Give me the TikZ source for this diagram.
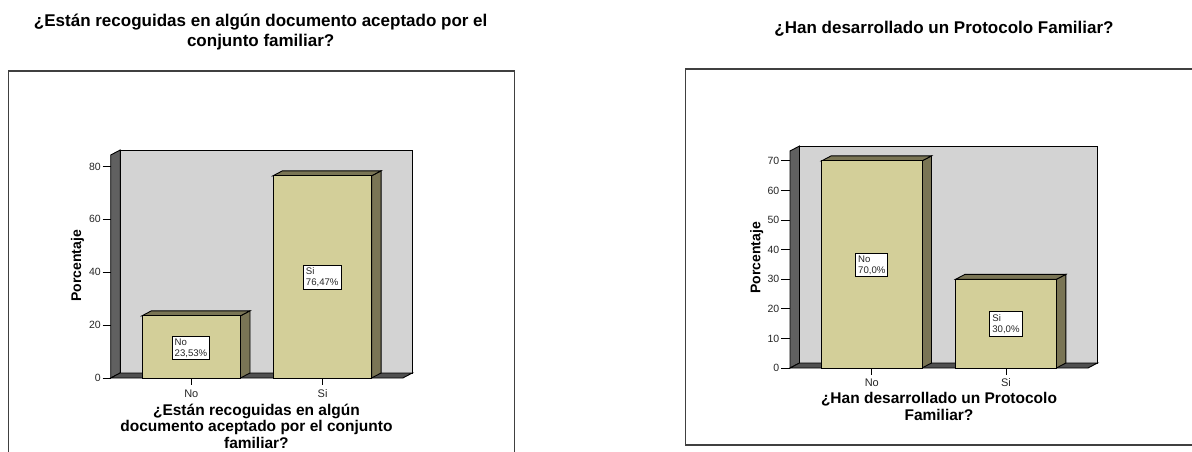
\documentclass[tikz,border=0pt]{standalone}
\usepackage{fontspec}
\setmainfont{Liberation Sans}
\definecolor{wallgray}{RGB}{211,211,211}
\definecolor{sidegray}{RGB}{96,96,96}
\definecolor{floorgray}{RGB}{80,80,80}
\definecolor{barfront}{RGB}{211,207,153}
\definecolor{barside}{RGB}{122,117,85}
\definecolor{framegray}{RGB}{64,64,64}
\newcommand\tdbar[4]{%
  \filldraw[barsidest] (#2,#4) -- (#2+9.5,#4-5) -- (#2+9.5,#3-5) -- (#2,#3) -- cycle;
  \filldraw[barsidest] (#1,#3) -- (#1+9.5,#3-5) -- (#2+9.5,#3-5) -- (#2,#3) -- cycle;
  \filldraw[barfrontst] (#1,#4) rectangle (#2,#3);
}
\begin{document}
\begin{tikzpicture}[x=1pt,y=-1pt,
  frame/.style={draw=framegray, line width=1.2pt},
  wallst/.style={fill=wallgray, draw=black, line width=0.9pt},
  sidewallst/.style={fill=sidegray, draw=black, line width=0.9pt},
  floorst/.style={fill=floorgray, draw=black, line width=0.9pt},
  barsidest/.style={fill=barside, draw=black, line width=0.9pt},
  barfrontst/.style={fill=barfront, draw=black, line width=0.9pt},
  tick/.style={draw=black, line width=0.9pt},
  ticklab/.style={anchor=east, inner sep=0pt, font=\fontsize{10.5}{12}\selectfont, text=black!85},
  catlab/.style={inner sep=0pt, font=\fontsize{11}{12}\selectfont, text=black!85},
  title/.style={inner sep=0pt, align=center, font=\bfseries\fontsize{17}{20}\selectfont},
  axtitle/.style={inner sep=0pt, align=center, font=\bfseries\fontsize{15.5}{16.5}\selectfont},
  ytitle/.style={inner sep=0pt, rotate=90, font=\bfseries\fontsize{14}{15}\selectfont},
  valbox/.style={draw=black, fill=white, line width=0.9pt, align=left, inner xsep=2.5pt, inner ysep=2.5pt,
    font=\fontsize{9.6}{11}\selectfont, text=black!85}
]
\useasboundingbox (0,0) rectangle (1192,452);
\clip (0,0) rectangle (1192,452);
\fill[white] (0,0) rectangle (1192,452);

% ---------------- left chart ----------------
\node[title] (t1) at (260.7,32) {¿Están recoguidas en algún documento aceptado por el\\conjunto familiar?};
\draw[frame] (8.4,71) rectangle (514.7,470);
% side wall, back wall, floor
\filldraw[sidewallst] (110.7,378) -- (110.7,155) -- (120.2,150) -- (120.2,373) -- cycle;
\filldraw[wallst] (120.2,150) rectangle (412.3,373);
\filldraw[floorst] (110.7,378) -- (402.8,378) -- (412.3,373) -- (120.2,373) -- cycle;
% ticks
\foreach \v in {0,20,40,60,80}{
  \draw[tick] (102.6,{378-\v*2.644}) -- (110.7,{378-\v*2.644});
  \node[ticklab] (ly\v) at (101,{378-\v*2.644}) {\v};
}
% bars
\tdbar{142}{240.5}{315.8}{378}
\tdbar{273}{371.6}{175.8}{378}
\node[valbox] (lb1) at (191,348) {No\\23,53\%};
\node[valbox] (lb2) at (322.2,277.5) {Si\\76,47\%};
% categories
\draw[tick] (191.3,378) -- (191.3,385);
\draw[tick] (322.6,378) -- (322.6,385);
\node[catlab] (lc1) at (191.3,394) {No};
\node[catlab] (lc2) at (322.6,394) {Si};
\node[axtitle] (lx) at (256.4,426) {¿Están recoguidas en algún\\documento aceptado por el conjunto\\familiar?};
\node[ytitle] (ly) at (77.5,266) {Porcentaje};

% ---------------- right chart ----------------
\node[title] (t2) at (944,29) {¿Han desarrollado un Protocolo Familiar?};
\draw[frame] (685.3,69) rectangle (1210,445);
\filldraw[sidewallst] (790,368) -- (790,151) -- (799.5,146) -- (799.5,363) -- cycle;
\filldraw[wallst] (799.5,146) rectangle (1097.5,363);
\filldraw[floorst] (790,368) -- (1088,368) -- (1097.5,363) -- (799.5,363) -- cycle;
\foreach \v in {0,10,20,30,40,50,60,70}{
  \draw[tick] (781,{368-\v*2.958}) -- (790,{368-\v*2.958});
  \node[ticklab] (ry\v) at (779.5,{368-\v*2.958}) {\v};
}
\tdbar{821.6}{922}{160.9}{368}
\tdbar{955.6}{1056.4}{279.3}{368}
\node[valbox] (rb1) at (871.8,265) {No\\70,0\%};
\node[valbox] (rb2) at (1006,324) {Si\\30,0\%};
\draw[tick] (871.8,368) -- (871.8,375);
\draw[tick] (1006,368) -- (1006,375);
\node[catlab] (rc1) at (871.8,383) {No};
\node[catlab] (rc2) at (1006,383) {Si};
\node[axtitle] (rx) at (939,406.5) {¿Han desarrollado un Protocolo\\Familiar?};
\node[ytitle] (ryt) at (756.7,258) {Porcentaje};
\end{tikzpicture}
\end{document}
